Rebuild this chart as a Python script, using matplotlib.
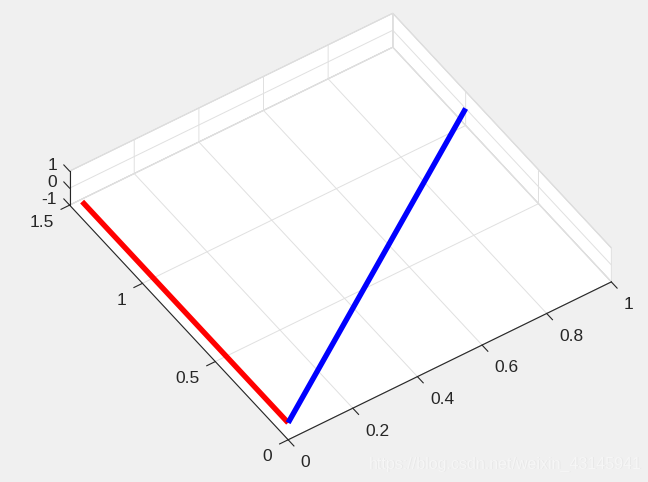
import matplotlib
matplotlib.use('Agg')
import matplotlib.pyplot as plt

plt.rcParams['font.family'] = ['Liberation Sans', 'DejaVu Sans']

# lines, both start at origin in the z=0 plane
red_x = [0, 0]
red_y = [0, 1.414]
red_z = [0, 0]
blue_x = [0, 1]
blue_y = [0, 1]
blue_z = [0, 0]

x_ticks = [0, 0.2, 0.4, 0.6, 0.8, 1]
y_ticks = [0, 0.5, 1, 1.5]
z_ticks = [-1, 0, 1]
x_labels = ['0', '0.2', '0.4', '0.6', '0.8', '1']
y_labels = ['0', '0.5', '1', '1.5']
z_labels = ['-1', '0', '1']

W, H = 648, 482
fig = plt.figure(figsize=(W / 100, H / 100), dpi=100, facecolor='#f0f0f0')

# square 3d axes, 538 px side, placed so the box lands where the reference has it
ax = fig.add_axes([64.2 / W, -20.8 / H, 538 / W, 538 / H], projection='3d', proj_type='ortho')
ax.set_facecolor('#f0f0f0')
ax.view_init(elev=46.4, azim=236)
ax.set_box_aspect((390, 391, 49.3))

ax.set_xlim(0, 1)
ax.set_ylim(0, 1.5)
ax.set_zlim(-1, 1)
ax.set_xticks(x_ticks, x_labels)
ax.set_yticks(y_ticks, y_labels)
ax.set_zticks(z_ticks, z_labels)

for axis in (ax.xaxis, ax.yaxis, ax.zaxis):
    axis.set_pane_color((1, 1, 1, 1))
    axis.pane.set_edgecolor('#cfcfcf')
    axis.pane.set_linewidth(0.8)
    axis.line.set_color('#262626')
    axis.line.set_linewidth(0.8)
    axis._axinfo['grid'].update(color='#e0e0e0', linewidth=0.7)

# x and y ticks stick out of the box, z ticks run along +y
tick_lw = {True: 0.8, False: 0.8}
ax.xaxis._axinfo['tick'].update(inward_factor=0.33, outward_factor=0, linewidth=tick_lw)
ax.yaxis._axinfo['tick'].update(inward_factor=0.33, outward_factor=0, linewidth=tick_lw)
ax.zaxis._axinfo['tick'].update(inward_factor=0, outward_factor=0.33, linewidth=tick_lw)
ax.zaxis.set_ticks_position('upper')
ax.zaxis._get_tickdir = lambda pos: 1
# z labels only pushed along y, otherwise they end up too far left
ax.zaxis._axmask = lambda: [False, True, False]

ax.tick_params(axis='x', pad=3.5, labelsize=12.5, colors='#262626')
ax.tick_params(axis='y', pad=2, labelsize=12.5, colors='#262626')
ax.tick_params(axis='z', pad=3.5, labelsize=12.5, colors='#262626')
plt.setp(ax.get_xticklabels(), ha='left')
plt.setp(ax.get_yticklabels(), ha='right')
plt.setp(ax.get_zticklabels(), ha='right')

ax.plot(red_x, red_y, red_z, color='#ff0000', lw=3.9, solid_capstyle='butt')
ax.plot(blue_x, blue_y, blue_z, color='#0000ff', lw=3.9, solid_capstyle='butt')

# faint csdn watermark
mark = 'https://blog.csdn.net/weixin_43145941'
fig.text(369.7 / W, 1 - 464.7 / H, mark, color='#e8e8e8', fontsize=11.55, va='center')
fig.text(369 / W, 1 - 464 / H, mark, color='#f6f6f6', fontsize=11.55, va='center')

plt.savefig('out.png', dpi=100, facecolor=fig.get_facecolor())
